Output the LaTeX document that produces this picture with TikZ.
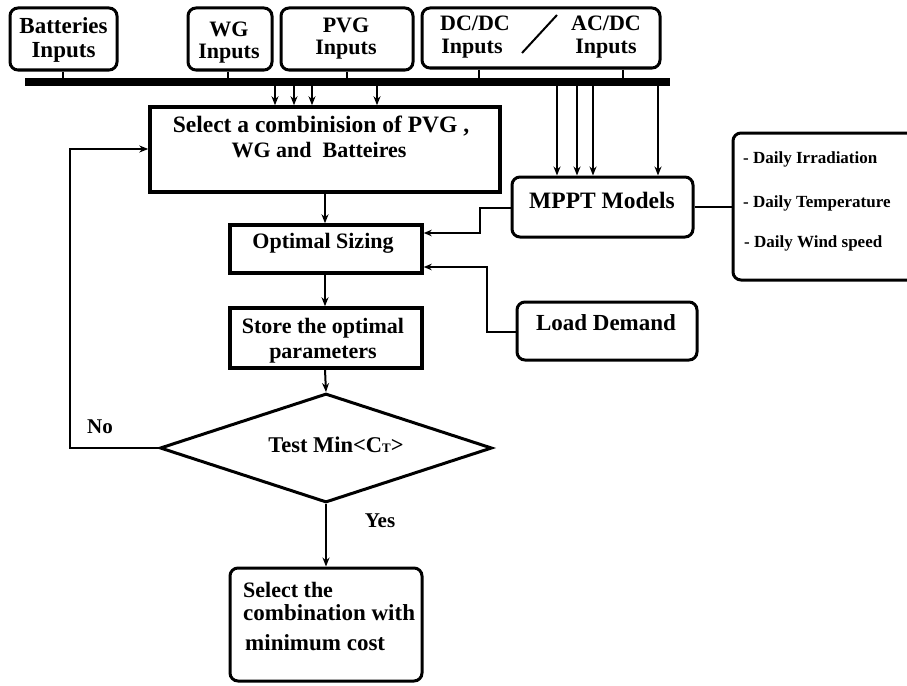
\documentclass[tikz,border=0pt]{standalone}
\usepackage{fontspec}
\setmainfont{Liberation Serif}
\usetikzlibrary{fit,shapes.geometric,arrows.meta}
\newcommand{\fsz}[1]{\fontsize{#1}{#1}\selectfont}

\begin{document}
\begin{tikzpicture}[x=1pt,y=-1pt,
  rbox/.style={draw, line width=3pt, rounded corners=8pt, inner sep=0pt},
  sbox/.style={draw, line width=3.5pt, inner sep=0pt},
  txt/.style={font=\bfseries\fsz{22}, inner sep=0pt, anchor=base},
  small/.style={font=\bfseries\fsz{17}, inner sep=0pt, anchor=base west},
  stub/.style={line width=2pt},
  arr/.style={line width=2pt, -{Stealth[length=9pt,width=7pt]}},
  thinarr/.style={line width=1.4pt, -{Stealth[length=8pt,width=6.5pt]}},
]
\useasboundingbox (0,0) rectangle (907,685);

% input boxes
\node[rbox, fit={(10,8) (117,70)}] (bat) {};
\node[txt, font=\bfseries\fsz{23}] (batA) at (63.5,34) {Batteries};
\node[txt, font=\bfseries\fsz{23}] (batB) at (63.5,57) {Inputs};

\node[rbox, fit={(188,8) (272,70)}] (wg) {};
\node[txt] (wgA) at (229,37) {WG};
\node[txt] (wgB) at (229,59) {Inputs};

\node[rbox, fit={(281,8) (413,70)}] (pvg) {};
\node[txt] (pvgA) at (346,33) {PVG};
\node[txt] (pvgB) at (346,55) {Inputs};

\node[rbox, fit={(422,8) (660,68)}] (conv) {};
\node[txt] (dcA) at (475,31) {DC/DC};
\node[txt] (dcB) at (472,54) {Inputs};
\node[txt] (acA) at (606,31) {AC/DC};
\node[txt] (acB) at (606,54) {Inputs};
\coordinate (slA) at (522,53);
\coordinate (slB) at (557,15);
\draw[line width=2pt] (slA) -- (slB);

% bus bar
\node[fill, inner sep=0pt, fit={(25,78) (670,86)}] (bus) {};
\draw[stub] (bat.south -| 63,0) -- (bus.north -| 63,0);
\draw[stub] (wg.south -| 228,0) -- (bus.north -| 228,0);
\draw[stub] (pvg.south -| 347,0) -- (bus.north -| 347,0);
\draw[stub] (conv.south -| 479,0) -- (bus.north -| 479,0);
\draw[stub] (conv.south -| 623,0) -- (bus.north -| 623,0);

% selection box
\node[sbox, fit={(150,107) (500,192)}] (sel) {};
\node[txt, font=\bfseries\fsz{23.5}] (selA) at (321,132) {Select a combinision of PVG ,};
\node[txt] (selB) at (319,157) {WG and\ \ Batteires};
\foreach \x in {275,294,312,377}
  \draw[arr] (bus.south -| \x,0) -- (sel.north -| \x,0);

% MPPT models
\node[rbox, fit={(512,177) (693,237)}] (mppt) {};
\node[txt, font=\bfseries\fsz{23.5}] (mpptT) at (602,208) {MPPT Models};
\foreach \x in {557,577,593,658}
  \draw[arr] (bus.south -| \x,0) -- (mppt.north -| \x,0);

% weather data
\node[rbox, fit={(733,133) (930,280)}] (daily) {};
\node[small] (dA) at (743,163) {- Daily Irradiation};
\node[small] (dB) at (743,207) {- Daily Temperature};
\node[small] (dC) at (744,247) {- Daily Wind speed};
\draw[line width=2pt] (mppt.east |- 0,207) -- (daily.west |- 0,207);

% optimal sizing
\node[sbox, fit={(230,225) (422,273)}] (opt) {};
\node[txt] (optT) at (323,248) {Optimal Sizing};
\draw[arr] (sel.south -| 325,0) -- (opt.north -| 325,0);

% load demand
\node[rbox, fit={(517,302) (697,360)}] (load) {};
\node[txt, font=\bfseries\fsz{23}] (loadT) at (606,330) {Load Demand};

\draw[thinarr] (mppt.west |- 0,208) -- (480,208) -- (480,233) -- (opt.east |- 0,233);
\draw[thinarr] (load.west |- 0,332) -- (487,332) -- (487,267) -- (opt.east |- 0,267);

% store parameters
\node[sbox, fit={(230,308) (422,368)}] (store) {};
\node[txt] (stA) at (323,333) {Store the optimal};
\node[txt] (stB) at (323,358) {parameters};
\draw[arr] (opt.south -| 325,0) -- (store.north -| 325,0);

% decision
\node[draw, diamond, line width=3pt, inner sep=0pt, minimum width=332pt, minimum height=109pt] (test) at (326,448) {};
\node[txt, font=\bfseries\fsz{22.5}] (testT) at (336,452) {Test Min<C\raisebox{-0.5pt}{\fsz{13}T}>};
\draw[arr] (store.south -| 325,0) -- (test.north);

\node[txt, font=\bfseries\fsz{21}] (no) at (100,433) {No};
\draw[line width=2.5pt, -{Stealth[length=9pt,width=7pt]}] (test.west) -- (70,448) -- (70,149) -- (sel.west |- 0,149);

\node[txt, font=\bfseries\fsz{21}] (yes) at (380,527) {Yes};

% final selection
\node[rbox, fit={(230,568) (422,681)}] (final) {};
\node[txt, anchor=base west] (fA) at (243,597) {Select the};
\node[txt, anchor=base west, font=\bfseries\fsz{23}] (fB) at (243,620) {combination with};
\node[txt, anchor=base west, font=\bfseries\fsz{23}] (fC) at (245,650) {minimum cost};
\draw[arr] (test.south) -- (final.north -| test.south);
\end{tikzpicture}
\end{document}
